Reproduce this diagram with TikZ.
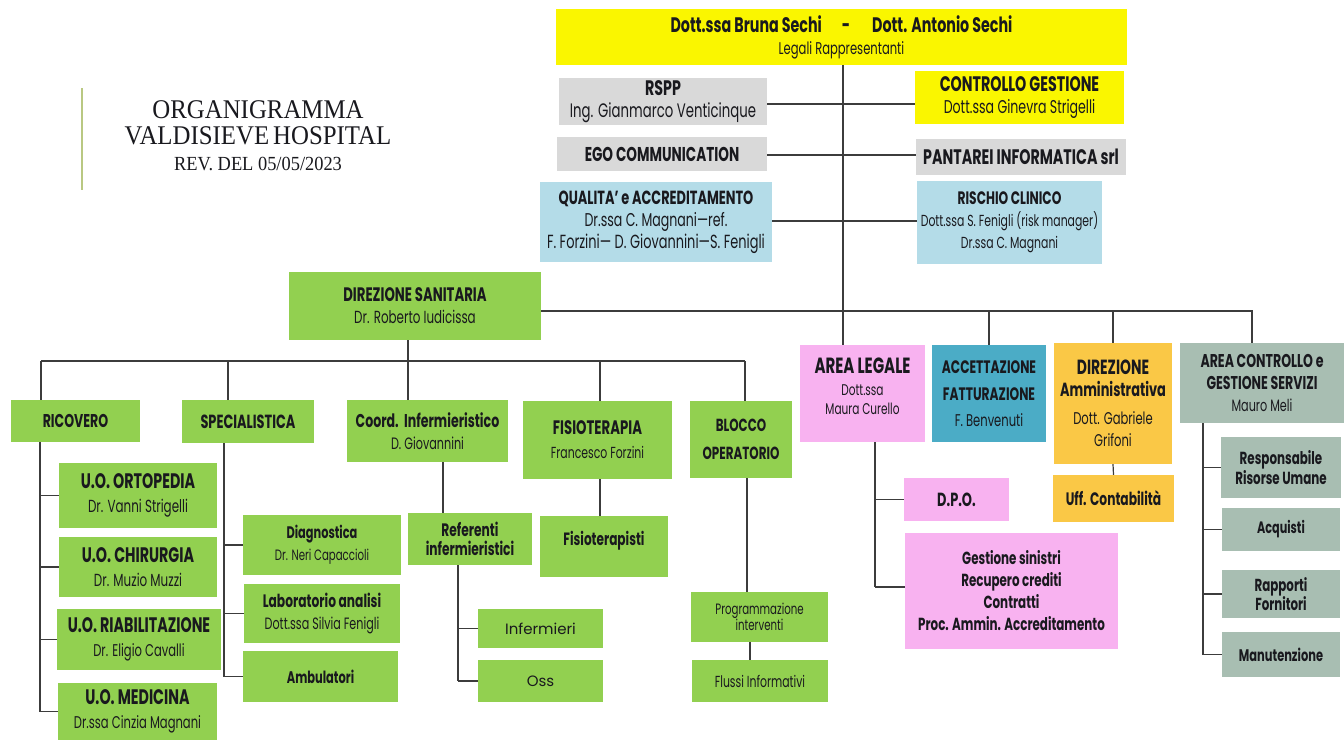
\documentclass[tikz,border=0pt]{standalone}
\usepackage{fontspec}
\setmainfont{Poppins}[FakeStretch=0.68]
\newfontfamily\titlefont{Liberation Serif}[FakeStretch=0.92]
\newfontfamily\widefont{Poppins}
\definecolor{cyel}{RGB}{250,246,0}
\definecolor{cgry}{RGB}{217,217,217}
\definecolor{clblu}{RGB}{180,220,232}
\definecolor{cgrn}{RGB}{146,208,80}
\definecolor{cpnk}{RGB}{248,178,240}
\definecolor{caqua}{RGB}{75,172,198}
\definecolor{corng}{RGB}{250,200,70}
\definecolor{csage}{RGB}{168,190,178}
\definecolor{cbar}{RGB}{185,200,130}
\definecolor{ink}{RGB}{25,25,30}
\definecolor{linec}{RGB}{60,60,60}
\tikzset{
  box/.style={inner sep=0pt, align=center, text=ink, font=\fontsize{17}{22}\selectfont},
  wh/.style 2 args={minimum width=#1pt, minimum height=#2pt},
  yel/.style={box, fill=cyel},
  gry/.style={box, fill=cgry},
  lblu/.style={box, fill=clblu},
  grn/.style={box, fill=cgrn},
  pnk/.style={box, fill=cpnk},
  aqua/.style={box, fill=caqua},
  orng/.style={box, fill=corng},
  sage/.style={box, fill=csage},
  conn/.style={draw=linec, line width=1.2pt},
}
\newcommand\hd[2][19]{{\bfseries\fontsize{#1}{22}\selectfont #2}}
\newcommand\nm[2][17]{{\fontsize{#1}{22}\selectfont #2}}
\begin{document}
\begin{tikzpicture}[x=1pt, y=-1pt]
\useasboundingbox[fill=white] (0,0) rectangle (1344,740);
% title
\draw[cbar, line width=2.5pt] (82,88) -- (82,190);
\node[text=ink, align=center, font=\titlefont\fontsize{27}{26}\selectfont] (titolo) at (258,136)
  {ORGANIGRAMMA\\VALDISIEVE\hspace{4pt}HOSPITAL\\{\fontsize{20}{24}\selectfont REV. DEL 05/05/2023}};
% vertice
\node[yel, wh={571}{56}] (rappr) at (841.5,37) {\hd[21]{Dott.ssa Bruna Sechi\hspace{20pt}-\hspace{22pt}Dott. Antonio Sechi}\\\nm[17]{Legali Rappresentanti}};
\node[gry, wh={208}{47}] (rspp) at (663,101.5) {\hd[21]{RSPP}\\\nm[19.5]{Ing. Gianmarco Venticinque}};
\node[yel, wh={209}{53}] (ctrl) at (1019.5,97.5) {\hd[21]{CONTROLLO GESTIONE}\\\nm[18.5]{Dott.ssa Ginevra Strigelli}};
\node[gry, wh={210}{34}] (ego) at (662,154) {\hd[20]{EGO COMMUNICATION}};
\node[gry, wh={210}{36}] (pantarei) at (1021,157) {\hd[21]{PANTAREI INFORMATICA srl}};
\node[lblu, wh={232}{80}] (qual) at (656,222) {\hd[19]{QUALITA’ e ACCREDITAMENTO}\\\nm[18.5]{Dr.ssa C. Magnani—ref.}\\\nm[19]{F. Forzini— D. Giovannini—S. Fenigli}};
\node[lblu, wh={185}{83}] (rischio) at (1009.5,222.5) {\hd[18]{RISCHIO CLINICO}\\\nm[16]{Dott.ssa S. Fenigli (risk manager)}\\\nm[16]{Dr.ssa C. Magnani}};
\node[grn, wh={252}{68}] (ds) at (415,306) {\hd[19.5]{DIREZIONE SANITARIA}\\\nm[17.5]{Dr. Roberto Iudicissa}};
% area sanitaria
\node[grn, wh={129}{42}] (ricovero) at (75.5,421) {\hd[18.5]{RICOVERO}};
\node[grn, wh={132}{43}] (spec) at (248,421.5) {\hd[19]{SPECIALISTICA}};
\node[grn, wh={161}{62}] (coord) at (427.5,431) {\hd[18.5]{Coord.\ \ Infermieristico}\\\nm[16.5]{D. Giovannini}};
\node[grn, wh={149}{78}] (fisio) at (597.5,440) {\hd[19.5]{FISIOTERAPIA}\\[2pt]\nm[16]{Francesco Forzini}};
\node[grn, wh={102}{77}] (blocco) at (741,439.5) {\hd[17.5]{BLOCCO}\\[6pt]\hd[17.5]{OPERATORIO}};
\node[grn, wh={158}{65}] (orto) at (138,495.5) {\hd[21]{U.O. ORTOPEDIA}\\[2pt]\nm[17.5]{Dr. Vanni Strigelli}};
\node[grn, wh={158}{60}] (chir) at (138,567) {\hd[21]{U.O. CHIRURGIA}\\[2pt]\nm[17.5]{Dr. Muzio Muzzi}};
\node[grn, wh={164}{61}] (riab) at (139,639.5) {\hd[21]{U.O. RIABILITAZIONE}\\[2pt]\nm[17]{Dr. Eligio Cavalli}};
\node[grn, wh={159}{57}] (med) at (137.5,711.5) {\hd[21]{U.O. MEDICINA}\\[2pt]\nm[17]{Dr.ssa Cinzia Magnani}};
\node[grn, wh={158}{60}] (diag) at (322,545) {\hd[16.7]{Diagnostica}\\\nm[15]{Dr. Neri Capaccioli}};
\node[grn, wh={156}{59}] (lab) at (322,613.5) {\hd[18]{Laboratorio analisi}\\\nm[16.4]{Dott.ssa Silvia Fenigli}};
\node[grn, wh={155}{51}] (amb) at (320.5,676.5) {\hd[16.8]{Ambulatori}};
\node[grn, wh={124}{52}, font=\fontsize{18}{19}\selectfont] (referenti) at (470,539) {\textbf{Referenti}\\\textbf{infermieristici}};
\node[grn, wh={125}{39}, font=\widefont\fontsize{15}{18}\selectfont] (infermieri) at (540.5,628.5) {Infermieri};
\node[grn, wh={125}{42}, font=\widefont\fontsize{15}{18}\selectfont] (oss) at (540.5,681) {Oss};
\node[grn, wh={128}{61}] (fterap) at (604,546.5) {\hd[17.8]{Fisioterapisti}\\[-6pt]};
\node[grn, wh={137}{50}, font=\fontsize{15}{15}\selectfont] (progr) at (759.5,617) {Programmazione\\interventi};
\node[grn, wh={136}{42}] (flussi) at (760,681) {\nm[16]{Flussi Informativi}};
% area amministrativa
\node[pnk, wh={125}{97}, font=\fontsize{15.5}{19}\selectfont] (legale) at (862.5,393.5) {{\bfseries\fontsize{22}{22}\selectfont AREA LEGALE}\\[3pt]Dott.ssa\\Maura Curello\\[-4pt]};
\node[aqua, wh={114}{97}] (accett) at (989,393.5) {\hd[18]{ACCETTAZIONE}\\[5pt]\hd[18]{FATTURAZIONE}\\[4pt]\nm[17]{F. Benvenuti}};
\node[orng, wh={118}{121}] (diramm) at (1113,403.5) {\hd[20.5]{DIREZIONE}\\\hd[19]{Amministrativa}\\[6pt]\nm[17]{Dott. Gabriele}\\\nm[17]{Grifoni}};
\node[sage, wh={164}{80}] (areactrl) at (1262,383) {\hd[18.5]{AREA CONTROLLO e}\\\hd[18.5]{GESTIONE SERVIZI}\\\nm[16.5]{Mauro Meli}};
\node[pnk, wh={105}{43}] (dpo) at (956.5,499.5) {\hd[19]{D.P.O.}};
\node[pnk, wh={213}{116}] (gestione) at (1011.5,591) {\hd[17.5]{Gestione sinistri}\\\hd[17.5]{Recupero crediti}\\\hd[17.5]{Contratti}\\\hd[17.5]{Proc. Ammin. Accreditamento}};
\node[orng, wh={121}{47}] (uff) at (1113.5,498.5) {\hd[18]{Uff. Contabilità}};
\node[sage, wh={120}{61}, font=\fontsize{17.5}{18}\selectfont] (risorse) at (1281,467.5) {\textbf{Responsabile}\\\textbf{Risorse Umane}};
\node[sage, wh={118}{43}] (acquisti) at (1281,529.5) {\hd[16.5]{Acquisti}};
\node[sage, wh={118}{48}, font=\fontsize{17.4}{16}\selectfont] (fornitori) at (1281,594) {\textbf{Rapporti}\\\textbf{Fornitori}};
\node[sage, wh={118}{45}] (manut) at (1281,654.5) {\hd[16.8]{Manutenzione}};
% collegamenti vertice
\draw[conn] (rappr.south -| 843,0) -- (843,0 |- legale.north);
\draw[conn] (rspp.east |- 0,104) -- (ctrl.west |- 0,104);
\draw[conn] (ego.east |- 0,155) -- (pantarei.west |- 0,155);
\draw[conn] (qual.east |- 0,221) -- (rischio.west |- 0,221);
\draw[conn] (ds.east |- 0,311) -- (1252,311) -- (1252,0 |- areactrl.north);
\draw[conn] (accett.north) -- (accett.north |- 0,311);
\draw[conn] (diramm.north) -- (diramm.north |- 0,311);
% collegamenti sanitari
\draw[conn] (408,0 |- ds.south) -- (408,0 |- coord.north);
\draw[conn] (41,361) -- (745,361);
\foreach \x/\n in {41/ricovero,228/spec,600/fisio,745/blocco}
  \draw[conn] (\x,361) -- (\x,0 |- \n.north);
\draw[conn] (40,0 |- ricovero.south) -- (40,0 |- med.west);
\foreach \n in {orto,chir,riab,med}
  \draw[conn] (\n.west -| 40,0) -- (\n.west);
\draw[conn] (224,0 |- spec.south) -- (224,0 |- amb.west);
\foreach \n in {diag,lab,amb}
  \draw[conn] (\n.west -| 224,0) -- (\n.west);
\draw[conn] (443,0 |- coord.south) -- (443,0 |- referenti.north);
\draw[conn] (458,0 |- referenti.south) -- (458,0 |- oss.west);
\foreach \n in {infermieri,oss}
  \draw[conn] (\n.west -| 458,0) -- (\n.west);
\draw[conn] (600,0 |- fisio.south) -- (600,0 |- fterap.north);
\draw[conn] (747,0 |- blocco.south) -- (747,0 |- progr.north);
\draw[conn] (750,0 |- progr.south) -- (750,0 |- flussi.north);
% collegamenti amministrativi
\draw[conn] (875,0 |- legale.south) -- (875,587);
\draw[conn] (875,0 |- dpo.west) -- (dpo.west);
\draw[conn] (875,587) -- (gestione.west |- 0,587);
\draw[conn] (diramm.south) -- (uff.north);
\draw[conn] (1203,0 |- areactrl.south) -- (1203,0 |- manut.west);
\foreach \n in {risorse,acquisti,fornitori,manut}
  \draw[conn] (\n.west -| 1203,0) -- (\n.west);
\end{tikzpicture}
\end{document}
